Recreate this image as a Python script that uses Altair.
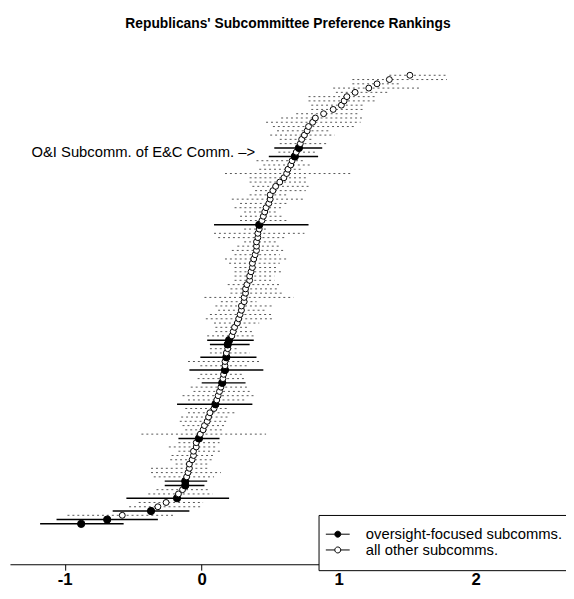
import altair as alt
import pandas as pd

TITLE = "Republicans' Subcommittee Preference Rankings"
ANNOT = "O&I Subcomm. of E&C Comm. \u2013>"
GROUPS = ["oversight-focused subcomms.", "all other subcomms."]

rank = list(range(1, 107))
est = [-0.88, -0.69, -0.58, -0.37, -0.32, -0.26, -0.18, -0.17, -0.14, -0.12,
       -0.12, -0.11, -0.10, -0.09, -0.09, -0.07, -0.06, -0.06, -0.04, -0.04,
       -0.02, -0.01, 0.01, 0.02, 0.04, 0.05, 0.06, 0.09, 0.10, 0.11,
       0.12, 0.13, 0.14, 0.15, 0.155, 0.16, 0.17, 0.17, 0.17, 0.18,
       0.18, 0.19, 0.19, 0.20, 0.22, 0.23, 0.24, 0.26, 0.27, 0.28,
       0.29, 0.29, 0.31, 0.31, 0.32, 0.32, 0.33, 0.35, 0.35, 0.36,
       0.37, 0.37, 0.38, 0.39, 0.40, 0.40, 0.40, 0.41, 0.41, 0.42,
       0.42, 0.44, 0.45, 0.46, 0.47, 0.49, 0.50, 0.50, 0.52, 0.54,
       0.57, 0.60, 0.62, 0.63, 0.65, 0.66, 0.68, 0.69, 0.71, 0.72,
       0.73, 0.75, 0.77, 0.78, 0.81, 0.83, 0.89, 0.96, 1.02, 1.04,
       1.06, 1.12, 1.22, 1.28, 1.37, 1.52]
lo = [-1.18, -1.06, -0.98, -0.65, -0.53, -0.46, -0.55, -0.39, -0.33, -0.27,
      -0.27, -0.35, -0.37, -0.37, -0.19, -0.23, -0.22, -0.17, -0.24, -0.17,
      -0.17, -0.44, -0.12, -0.14, -0.16, -0.15, -0.10, -0.12, -0.18, -0.10,
      -0.14, -0.06, -0.08, 0.00, -0.03, -0.01, -0.09, -0.01, -0.10, -0.01,
      0.06, 0.06, 0.06, 0.04, 0.04, 0.10, 0.10, 0.09, 0.03, 0.06,
      0.12, 0.10, 0.14, 0.02, 0.21, 0.21, 0.19, 0.24, 0.24, 0.24,
      0.24, 0.20, 0.17, 0.24, 0.22, 0.26, 0.31, 0.12, 0.09, 0.31,
      0.09, 0.28, 0.28, 0.31, 0.24, 0.28, 0.22, 0.35, 0.39, 0.37,
      0.35, 0.35, 0.17, 0.42, 0.45, 0.40, 0.49, 0.56, 0.53, 0.57,
      0.57, 0.50, 0.55, 0.52, 0.47, 0.58, 0.69, 0.80, 0.80, 0.78,
      0.78, 0.98, 0.96, 1.10, 1.10, 1.37]
hi = [-0.57, -0.32, -0.19, -0.09, -0.01, 0.01, 0.20, 0.08, 0.06, 0.02,
      0.04, 0.09, 0.14, 0.06, 0.06, 0.08, 0.09, 0.14, 0.10, 0.13,
      0.13, 0.47, 0.16, 0.17, 0.19, 0.21, 0.24, 0.20, 0.37, 0.33,
      0.40, 0.35, 0.33, 0.32, 0.33, 0.31, 0.45, 0.35, 0.42, 0.40,
      0.35, 0.27, 0.35, 0.38, 0.38, 0.38, 0.35, 0.42, 0.53, 0.51,
      0.47, 0.53, 0.40, 0.67, 0.60, 0.55, 0.57, 0.53, 0.53, 0.60,
      0.55, 0.57, 0.62, 0.57, 0.60, 0.57, 0.55, 0.62, 0.75, 0.47,
      0.78, 0.62, 0.60, 0.55, 0.60, 0.64, 0.74, 0.62, 0.76, 0.78,
      0.78, 0.76, 1.10, 0.74, 0.81, 0.74, 0.85, 0.83, 0.88, 0.91,
      0.81, 0.97, 0.93, 1.12, 1.16, 1.17, 1.14, 1.19, 1.19, 1.27,
      1.27, 1.37, 1.59, 1.46, 1.79, 1.79]
oversight_ranks = [1, 2, 4, 7, 10, 11, 21, 29, 34, 37, 40, 43, 44, 71, 87, 89]

annot_rank = [88]
annot_x = [0.39]

group = [GROUPS[0] if r in oversight_ranks else GROUPS[1] for r in rank]
df = pd.DataFrame({"rank": rank, "est": est, "lo": lo, "hi": hi, "group": group})
ann = pd.DataFrame({"rank": annot_rank, "x": annot_x, "label": [ANNOT]})

FONT = "Liberation Sans"
xscale = alt.Scale(domain=[-1.4, 2.66], nice=False, zero=False)
yscale = alt.Scale(domain=[-8.46, 112.23], nice=False, zero=False)
xaxis = alt.Axis(values=[-1, 0, 1, 2], labelExpr="'' + datum.value", title=None,
                 grid=False, domainColor="black", tickColor="black", tickSize=6,
                 labelFont=FONT, labelFontSize=17, labelFontWeight="bold",
                 labelColor="black", labelPadding=2)

base = alt.Chart(df)

dotted = base.transform_filter(alt.datum.group == GROUPS[1]).mark_rule(
    strokeDash=[2, 3], color="#555555", strokeWidth=1
).encode(
    x=alt.X("lo:Q", scale=xscale, axis=xaxis, title=None),
    x2="hi:Q",
    y=alt.Y("rank:Q", scale=yscale, axis=None),
)

solid = base.transform_filter(alt.datum.group == GROUPS[0]).mark_rule(
    color="black", strokeWidth=1.5
).encode(
    x=alt.X("lo:Q", scale=xscale, axis=xaxis, title=None),
    x2="hi:Q",
    y=alt.Y("rank:Q", scale=yscale, axis=None),
)

SYM = "M-2.2,0H-0.55M0.55,0H2.2M0.55,0A0.55,0.55,0,1,1,-0.55,0A0.55,0.55,0,1,1,0.55,0Z"

points = base.mark_point(
    shape="circle", filled=True, stroke="black", strokeWidth=1, opacity=1
).encode(
    x=alt.X("est:Q", scale=xscale, axis=xaxis, title=None),
    y=alt.Y("rank:Q", scale=yscale, axis=None),
    fill=alt.Fill(
        "group:N",
        scale=alt.Scale(domain=GROUPS, range=["black", "white"]),
        legend=alt.Legend(
            title=None, orient="none", legendX=313, legendY=473,
            padding=12, strokeColor="black", fillColor="white",
            symbolType=SYM, symbolSize=121, symbolStrokeColor="black",
            symbolStrokeWidth=1, symbolOffset=0, labelOffset=21,
            labelFont=FONT, labelFontSize=15, labelColor="black",
            rowPadding=0, labelLimit=400,
        ),
    ),
    size=alt.condition(alt.datum.group == GROUPS[0], alt.value(55), alt.value(36)),
)

text = alt.Chart(ann).mark_text(
    align="right", baseline="middle", font=FONT, fontSize=15, color="black"
).encode(
    x=alt.X("x:Q", scale=xscale, axis=xaxis, title=None),
    y=alt.Y("rank:Q", scale=yscale, axis=None),
    text="label:N",
)

chart = alt.layer(dotted, solid, points, text).properties(
    width=564, height=523,
    title=alt.TitleParams(TITLE, font=FONT, fontSize=14, fontWeight="bold",
                          anchor="middle", color="black", offset=18),
    autosize=alt.AutoSizeParams(type="none"),
    padding={"left": 2, "top": 37, "right": 0, "bottom": 31},
).configure_view(stroke=None)

chart.save("out.html", embed_options={"renderer": "svg", "actions": False})
